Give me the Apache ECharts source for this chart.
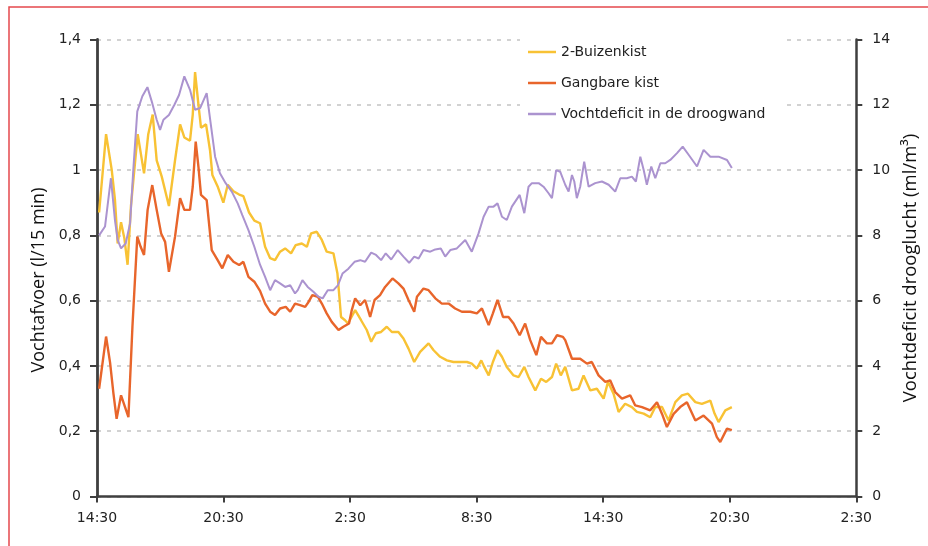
<!DOCTYPE html>
<html>
<head>
<meta charset="utf-8">
<script src="https://cdn.jsdelivr.net/npm/echarts@6/dist/echarts.min.js"></script>
<style>
html,body{margin:0;padding:0;background:#fff;}
#chart{width:928px;height:546px;}
</style>
</head>
<body>
<div id="chart"></div>
<script>
// ---- data (hours after 14:30, value) ----
var seriesNames = ['2-Buizenkist', 'Gangbare kist', 'Vochtdeficit in de droogwand'];
var xTickLabels = ['14:30', '20:30', '2:30', '8:30', '14:30', '20:30', '2:30'];
var leftTickLabels = ['0', '0,2', '0,4', '0,6', '0,8', '1', '1,2', '1,4'];
var rightTickLabels = ['0', '2', '4', '6', '8', '10', '12', '14'];

// 2-Buizenkist (l/15 min)
var buizenHours = [0.1,0.43,0.7,0.85,0.98,1.14,1.3,1.45,1.61,1.93,2.23,2.43,2.64,2.83,3.07,3.41,3.7,3.94,4.14,4.41,4.54,4.65,4.81,4.93,5.17,5.36,5.47,5.72,5.99,6.2,6.47,6.74,6.94,7.21,7.46,7.73,7.97,8.21,8.44,8.68,8.92,9.2,9.42,9.71,9.95,10.15,10.42,10.66,10.89,11.21,11.4,11.57,11.76,11.9,12.24,12.52,12.79,13.0,13.22,13.47,13.74,13.98,14.29,14.53,14.77,15.04,15.32,15.72,15.96,16.27,16.59,16.9,17.22,17.54,17.77,18.01,18.22,18.36,18.57,18.77,18.99,19.2,19.43,19.75,19.99,20.26,20.46,20.78,21.05,21.3,21.57,21.77,21.99,22.2,22.52,22.83,23.07,23.39,23.7,24.02,24.23,24.49,24.73,25.04,25.36,25.6,25.92,26.23,26.47,26.79,27.1,27.42,27.73,28.02,28.37,28.68,29.08,29.28,29.47,29.79,30.1];
var buizenValues = [0.87,1.11,1.0,0.91,0.775,0.84,0.79,0.71,0.89,1.11,0.99,1.11,1.17,1.03,0.98,0.89,1.03,1.14,1.10,1.09,1.17,1.30,1.20,1.13,1.14,1.06,0.985,0.95,0.90,0.955,0.935,0.925,0.92,0.87,0.845,0.837,0.765,0.73,0.724,0.75,0.76,0.745,0.77,0.775,0.765,0.806,0.811,0.786,0.75,0.745,0.683,0.55,0.54,0.53,0.571,0.54,0.51,0.474,0.5,0.504,0.52,0.504,0.504,0.484,0.453,0.412,0.443,0.469,0.448,0.428,0.417,0.412,0.412,0.412,0.407,0.392,0.417,0.397,0.371,0.412,0.448,0.428,0.397,0.371,0.366,0.397,0.366,0.325,0.361,0.351,0.366,0.407,0.371,0.397,0.325,0.33,0.371,0.325,0.33,0.3,0.351,0.315,0.259,0.284,0.274,0.259,0.254,0.243,0.274,0.274,0.233,0.289,0.31,0.315,0.289,0.284,0.294,0.254,0.228,0.264,0.274];

// Gangbare kist (l/15 min)
var gangbaarHours = [0.1,0.43,0.62,0.78,0.93,1.14,1.33,1.49,1.68,1.91,2.07,2.23,2.4,2.62,2.83,3.04,3.23,3.41,3.7,3.94,4.14,4.41,4.54,4.68,4.81,4.93,5.2,5.44,5.72,5.94,6.2,6.47,6.74,6.94,7.18,7.46,7.73,7.97,8.21,8.44,8.68,8.95,9.16,9.39,9.63,9.87,10.03,10.21,10.47,10.66,10.89,11.13,11.45,11.68,11.95,12.08,12.24,12.48,12.71,12.95,13.16,13.42,13.66,14.01,14.29,14.53,14.77,15.04,15.17,15.48,15.72,16.04,16.35,16.67,16.98,17.3,17.7,18.01,18.25,18.57,18.77,18.99,19.25,19.51,19.75,20.04,20.3,20.54,20.83,21.05,21.33,21.57,21.81,22.09,22.2,22.52,22.91,23.23,23.46,23.78,24.1,24.33,24.57,24.89,25.28,25.52,25.84,26.23,26.55,26.79,27.02,27.34,27.65,27.97,28.37,28.76,29.16,29.39,29.55,29.87,30.1];
var gangbaarValues = [0.33,0.49,0.41,0.315,0.238,0.31,0.274,0.243,0.52,0.796,0.765,0.74,0.878,0.954,0.878,0.806,0.78,0.688,0.796,0.914,0.878,0.878,0.949,1.087,1.01,0.924,0.908,0.755,0.724,0.699,0.74,0.719,0.709,0.719,0.673,0.658,0.63,0.591,0.566,0.556,0.576,0.581,0.566,0.591,0.586,0.581,0.596,0.617,0.612,0.591,0.561,0.535,0.51,0.52,0.53,0.571,0.607,0.586,0.602,0.55,0.602,0.617,0.642,0.668,0.653,0.637,0.602,0.566,0.612,0.637,0.632,0.607,0.591,0.591,0.576,0.566,0.566,0.561,0.576,0.525,0.561,0.602,0.55,0.55,0.53,0.494,0.53,0.479,0.433,0.489,0.469,0.469,0.494,0.489,0.479,0.422,0.422,0.407,0.412,0.371,0.351,0.356,0.32,0.3,0.31,0.279,0.274,0.264,0.289,0.253,0.213,0.253,0.274,0.289,0.233,0.248,0.223,0.182,0.167,0.208,0.203];

// Vochtdeficit in de droogwand (ml/m3, right axis)
var deficitHours = [0.1,0.38,0.66,0.85,0.98,1.14,1.36,1.57,1.72,1.91,2.15,2.39,2.62,2.83,2.99,3.15,3.41,3.67,3.89,4.14,4.41,4.65,4.89,5.2,5.41,5.6,5.83,6.1,6.39,6.67,6.89,7.18,7.46,7.73,7.97,8.21,8.44,8.68,8.92,9.16,9.39,9.52,9.74,9.99,10.26,10.5,10.7,10.94,11.21,11.42,11.64,11.92,12.21,12.48,12.71,13.0,13.23,13.47,13.69,13.95,14.26,14.53,14.8,15.04,15.25,15.48,15.8,16.04,16.3,16.51,16.75,17.06,17.46,17.77,18.09,18.33,18.57,18.8,18.99,19.2,19.43,19.67,20.04,20.26,20.46,20.62,20.94,21.17,21.41,21.57,21.77,21.96,22.2,22.36,22.52,22.63,22.75,22.91,23.1,23.31,23.62,23.94,24.26,24.57,24.81,25.12,25.36,25.55,25.76,25.92,26.07,26.28,26.47,26.71,26.94,27.18,27.5,27.77,28.05,28.45,28.76,29.08,29.47,29.87,30.1];
var deficitValues = [8.0,8.27,9.75,8.47,7.86,7.6,7.75,8.37,10.0,11.8,12.26,12.54,12.05,11.54,11.23,11.54,11.69,12.0,12.3,12.87,12.46,11.85,11.9,12.36,11.33,10.41,9.9,9.6,9.34,8.98,8.62,8.16,7.65,7.1,6.73,6.32,6.63,6.53,6.42,6.47,6.22,6.32,6.63,6.42,6.27,6.12,6.07,6.32,6.32,6.47,6.83,6.98,7.19,7.24,7.19,7.47,7.4,7.24,7.45,7.26,7.55,7.35,7.16,7.35,7.29,7.55,7.5,7.57,7.6,7.35,7.55,7.6,7.86,7.5,8.06,8.57,8.88,8.88,8.98,8.57,8.47,8.88,9.24,8.68,9.49,9.6,9.6,9.49,9.29,9.14,10.0,9.95,9.55,9.34,9.85,9.65,9.14,9.49,10.26,9.49,9.6,9.65,9.55,9.34,9.75,9.75,9.8,9.65,10.41,10.0,9.55,10.11,9.75,10.21,10.21,10.31,10.52,10.72,10.47,10.11,10.62,10.41,10.41,10.31,10.06];

function zip(a, b) { return a.map(function (h, i) { return [h, b[i]]; }); }

var colors = ['#f8c234', '#e8652b', '#ab93cf'];
var axisColor = '#3f3f3f';
var labelFont = 'DejaVu Sans';

var chart = echarts.init(document.getElementById('chart'), null, { renderer: 'canvas' });
chart.setOption({
  animation: false,
  backgroundColor: '#ffffff',
  color: colors,
  grid: { left: 97, right: 71, top: 39.5, bottom: 49.5, containLabel: false },
  legend: {
    orient: 'vertical',
    left: 520,
    top: 36,
    padding: [8, 20, 8, 8],
    backgroundColor: '#ffffff',
    itemWidth: 28,
    itemHeight: 2.5,
    itemGap: 15,
    icon: 'rect',
    data: seriesNames,
    textStyle: { fontFamily: labelFont, fontSize: 14, color: '#222', lineHeight: 16 }
  },
  xAxis: {
    type: 'value',
    min: 0,
    max: 36,
    interval: 6,
    axisLine: { show: true, onZero: false, lineStyle: { color: axisColor, width: 2.5 } },
    axisTick: { show: true, length: 6, lineStyle: { color: axisColor, width: 2 } },
    splitLine: { show: false },
    axisLabel: {
      margin: 15,
      fontFamily: labelFont, fontSize: 14, color: '#222',
      formatter: function (v) { return xTickLabels[Math.round(v / 6)]; }
    }
  },
  yAxis: [{
    type: 'value',
    min: 0, max: 1.4, interval: 0.2,
    name: 'Vochtafvoer (l/15 min)',
    nameLocation: 'middle',
    nameRotate: 90,
    nameGap: 47,
    nameTextStyle: { fontFamily: 'Open Sans', fontSize: 18, color: '#111', padding: [0, 24, 0, 0] },
    axisLine: { show: true, lineStyle: { color: axisColor, width: 2.8 } },
    axisTick: { show: true, length: 7, lineStyle: { color: axisColor, width: 2 } },
    splitLine: { show: true, lineStyle: { color: '#c4c4c4', width: 1.5, type: [4, 6] } },
    axisLabel: {
      margin: 16, fontFamily: labelFont, fontSize: 14, color: '#222',
      formatter: function (v) { return leftTickLabels[Math.round(v / 0.2)]; }
    }
  }, {
    type: 'value',
    position: 'right',
    min: 0, max: 14, interval: 2,
    name: 'Vochtdeficit drooglucht (ml/m³)',
    nameLocation: 'middle',
    nameRotate: 90,
    nameGap: 40,
    nameTextStyle: { fontFamily: 'Open Sans', fontSize: 18.5, color: '#111' },
    axisLine: { show: true, lineStyle: { color: axisColor, width: 2.5 } },
    axisTick: { show: true, length: 6, lineStyle: { color: axisColor, width: 2 } },
    splitLine: { show: false },
    axisLabel: {
      margin: 16, fontFamily: labelFont, fontSize: 14, color: '#222',
      formatter: function (v) { return rightTickLabels[Math.round(v / 2)]; }
    }
  }],
  series: [{
    name: seriesNames[0], type: 'line', yAxisIndex: 0, showSymbol: false, symbol: 'none',
    lineStyle: { width: 2.4, color: colors[0] }, data: zip(buizenHours, buizenValues)
  }, {
    name: seriesNames[1], type: 'line', yAxisIndex: 0, showSymbol: false, symbol: 'none',
    lineStyle: { width: 2.4, color: colors[1] }, data: zip(gangbaarHours, gangbaarValues)
  }, {
    name: seriesNames[2], type: 'line', yAxisIndex: 1, showSymbol: false, symbol: 'none',
    lineStyle: { width: 2, color: colors[2] }, data: zip(deficitHours, deficitValues)
  }],
  graphic: [{
    type: 'polyline',
    silent: true,
    z: 100,
    shape: { points: [[9, 546], [9, 7], [928, 7]] },
    style: { stroke: '#e5484d', lineWidth: 1.5, fill: null }
  }]
});
</script>
</body>
</html>
